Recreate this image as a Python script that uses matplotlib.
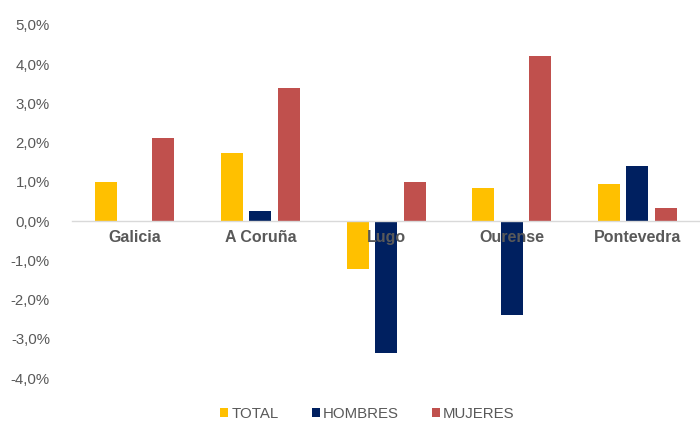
import matplotlib

matplotlib.use("Agg")
import matplotlib.pyplot as plt  # noqa: E402
import numpy as np  # noqa: E402
from matplotlib.ticker import FuncFormatter  # noqa: E402

# Variation by province, in percent
provinces = ["Galicia", "A Coruña", "Lugo", "Ourense", "Pontevedra"]
total = [0.99, 1.75, -1.21, 0.85, 0.94]
hombres = [-0.03, 0.26, -3.37, -2.40, 1.41]
mujeres = [2.11, 3.39, 0.99, 4.22, 0.34]
series_names = ["TOTAL", "HOMBRES", "MUJERES"]

COLORS = ["#ffc000", "#002060", "#c0504d"]
INK = "#595959"
ZERO = "#d9d9d9"

plt.rcParams.update({
    "font.family": ["Liberation Sans", "DejaVu Sans"],
    "figure.dpi": 100,
})

fig = plt.figure(figsize=(7.0, 4.23))
ax = fig.add_axes([0.103, 0.106, 0.897, 0.835])

x = np.arange(len(provinces))
width = 0.175
step = 0.227
for i, (name, vals) in enumerate(zip(series_names, [total, hombres, mujeres])):
    ax.bar(x + (i - 1) * step, vals, width=width, color=COLORS[i], label=name, zorder=1)

ax.set_xlim(-0.5, len(provinces) - 0.5)
ax.set_ylim(-4, 5)
ax.set_yticks(range(-4, 6))
ax.yaxis.set_major_formatter(FuncFormatter(lambda v, _: f"{v:.1f}%".replace(".", ",")))
ax.tick_params(axis="y", length=0, labelsize=10.8, labelcolor=INK, pad=16)

ax.spines["bottom"].set_position(("data", 0))
ax.spines["bottom"].set_color(ZERO)
ax.spines["bottom"].set_linewidth(1.0)
for side in ("top", "right", "left"):
    ax.spines[side].set_visible(False)
ax.set_xticks(x)
ax.set_xticklabels(provinces, fontsize=11.5, fontweight="bold", color=INK)
ax.tick_params(axis="x", length=0, pad=6)

fig.legend(loc="center", bbox_to_anchor=(0.525, 0.022), ncols=3, frameon=False,
           fontsize=10.8, labelcolor=INK, handlelength=0.55, handleheight=0.55,
           handletextpad=0.2, columnspacing=2.2)

fig.savefig("out.png", dpi=100, facecolor="white")
